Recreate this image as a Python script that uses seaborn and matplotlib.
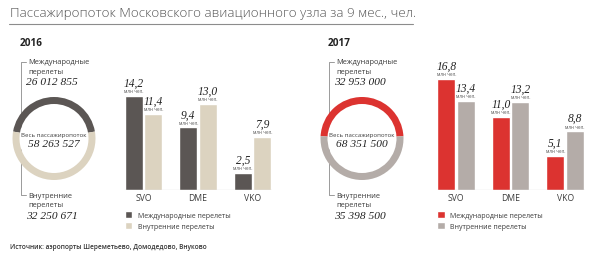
import matplotlib
matplotlib.use("Agg")
import matplotlib.pyplot as plt
import numpy as np
import pandas as pd
import seaborn as sns
from matplotlib.patches import Circle

# ---- data -------------------------------------------------------------
years = ["2016", "2017"]
airports = ["SVO", "DME", "VKO"]
series = ["Международные перелеты", "Внутренние перелеты"]

intl_2016 = [14.2, 9.4, 2.5]      # млн чел.
dom_2016 = [11.4, 13.0, 7.9]
intl_2017 = [16.8, 11.0, 5.1]
dom_2017 = [13.4, 13.2, 8.8]

intl_total = [26012855, 32953000]  # чел.
dom_total = [32250671, 35398500]
all_total = [58263527, 68351500]

title = "Пассажиропоток Московского авиационного узла за 9 мес., чел."
source = "Источник: аэропорты Шереметьево, Домодедово, Внуково"

# ---- style ------------------------------------------------------------
sns.set_theme(style="white")
plt.rcParams["font.family"] = ["Open Sans", "DejaVu Sans"]
SERIF = ["Liberation Serif", "DejaVu Serif"]

palettes = [["#5b5654", "#dcd3c0"], ["#dc3330", "#b4aca8"]]
TXT = "#3c3c3c"
LINE = "#9a9a9a"

W, H = 600, 255
fig = plt.figure(figsize=(W / 100, H / 100), dpi=100)


def px_axes(left, top, width, height):
    return fig.add_axes([left / W, 1 - (top + height) / H, width / W, height / H])


def fmt_int(n):
    return f"{n:,}".replace(",", " ")


def fmt_dec(v):
    return f"{v:.1f}".replace(".", ",")


# full-figure layer for titles, brackets and annotations (pixel units)
ov = px_axes(0, 0, W, H)
ov.set_xlim(0, W)
ov.set_ylim(H, 0)
ov.axis("off")
ov.set_zorder(0)

ov.text(10, 13.5, title, fontsize=9.6, color="#555555", va="center", ha="left",
        fontweight="light")
ov.plot([9, 413], [24.5, 24.5], color="#8c8c8c", lw=0.8)
ov.text(10, 248, source, fontsize=4.7, color="#333333", va="center", ha="left",
        fontweight="semibold")

panel_x = [0, 308]
bar_left = [124, 436.5]
bar_data = [(intl_2016, dom_2016), (intl_2017, dom_2017)]

PX_PER_UNIT = 6.6
BASE = 190.5
AX_TOP = 58

for i, year in enumerate(years):
    x0 = panel_x[i]
    pal = palettes[i]

    # year heading
    ov.text(x0 + 20, 43.5, year, fontsize=7.2, fontweight="bold", color="#222222",
            va="center", ha="left")

    # bracket linking the two totals
    ov.plot([x0 + 26, x0 + 20.5, x0 + 20.5, x0 + 26], [62.5, 62.5, 196, 196],
            color=LINE, lw=0.7)
    ov.text(x0 + 28, 63, "Международные", fontsize=5.4, color=TXT, va="center")
    ov.text(x0 + 28, 72.5, "перелеты", fontsize=5.4, color=TXT, va="center")
    ov.text(x0 + 26, 82.5, fmt_int(intl_total[i]), fontsize=8.2, style="italic",
            family=SERIF, color="#222222", va="center")
    ov.text(x0 + 28, 196.5, "Внутренние", fontsize=5.4, color=TXT, va="center")
    ov.text(x0 + 28, 206, "перелеты", fontsize=5.4, color=TXT, va="center")
    ov.text(x0 + 26, 216.5, fmt_int(dom_total[i]), fontsize=8.2, style="italic",
            family=SERIF, color="#222222", va="center")

    # donut: international share on top, domestic underneath
    cx, cy, r = x0 + 54, 139.5, 41.5
    dax = px_axes(cx - r, cy - r, 2 * r, 2 * r)
    dax.set_zorder(1)
    frac = intl_total[i] / (intl_total[i] + dom_total[i])
    ring = 7 / r
    dax.add_patch(Circle((0, 0), 1 - ring, facecolor="white", edgecolor="none",
                         zorder=0))
    dax.pie([intl_total[i], dom_total[i]], colors=pal, radius=1,
            startangle=90 - 180 * frac, counterclock=True,
            wedgeprops=dict(width=ring, edgecolor="none"))
    dax.set_xlim(-1, 1)
    dax.set_ylim(-1, 1)
    dax.set_aspect("equal")
    dax.axis("off")
    dax.text(0, 0.09, "Весь пассажиропоток", fontsize=4.4, color=TXT,
             ha="center", va="center")
    dax.text(0, -0.13, fmt_int(all_total[i]), fontsize=8.2, style="italic",
             family=SERIF, color="#222222", ha="center", va="center")

    # grouped bars by airport
    intl, dom = bar_data[i]
    df = pd.DataFrame({
        "airport": airports * 2,
        "series": [series[0]] * 3 + [series[1]] * 3,
        "value": intl + dom,
    })
    unit_w = 54.5
    bax = px_axes(bar_left[i], AX_TOP, 2.72 * unit_w, BASE - AX_TOP)
    sns.barplot(data=df, x="airport", y="value", hue="series", hue_order=series,
                palette=pal, width=0.72, gap=0.08, saturation=1, ax=bax)
    bax.set_xlim(-0.36, 2.36)
    bax.set_ylim(0, (BASE - AX_TOP) / PX_PER_UNIT)
    bax.axhline(0, color="#a0a0a0", lw=0.8)
    for s in bax.spines.values():
        s.set_visible(False)
    bax.set_yticks([])
    bax.set_xlabel("")
    bax.set_ylabel("")
    bax.tick_params(axis="x", length=0, pad=2.5, labelsize=6.2, labelcolor=TXT)

    for cont, vals in zip(bax.containers, (intl, dom)):
        for bar, v in zip(cont, vals):
            xc = bar.get_x() + bar.get_width() / 2
            bax.annotate(fmt_dec(v), (xc, v), xytext=(0, 9.5),
                         textcoords="offset points", ha="center", va="center",
                         fontsize=8.3, style="italic", family=SERIF,
                         color="#222222", annotation_clip=False)
            bax.annotate("млн чел.", (xc, v), xytext=(0, 3.9),
                         textcoords="offset points", ha="center", va="center",
                         fontsize=3.3, color="#555555", annotation_clip=False)

    sns.move_legend(bax, loc="upper left",
                    bbox_to_anchor=((bar_left[i] + 0.5) / W, 1 - 212 / H),
                    bbox_transform=fig.transFigure, frameon=False, title=None,
                    fontsize=5.0, handlelength=1.15, handleheight=1.15,
                    handletextpad=0.75, labelspacing=0.45, borderpad=0,
                    borderaxespad=0)
    for t in bax.get_legend().get_texts():
        t.set_color(TXT)

fig.savefig("out.png", dpi=100)
